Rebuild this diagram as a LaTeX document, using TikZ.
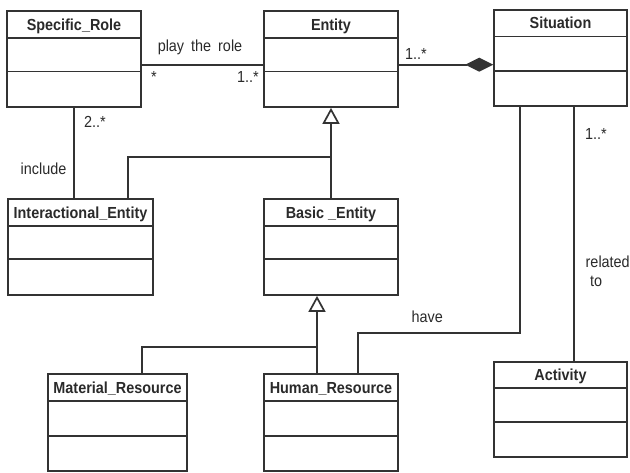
\documentclass[tikz,border=0pt]{standalone}
\usepackage{fontspec}
\setmainfont[FakeStretch=0.9]{Liberation Sans}
\usetikzlibrary{arrows.meta,fit,calc}
\definecolor{ink}{HTML}{333333}
\definecolor{txt}{HTML}{2A2A2A}
\tikzset{
  ln/.style={draw=ink, line width=1.7pt},
  cls/.style={draw=ink, line width=1.7pt, inner sep=0pt, rectangle},
  ttl/.style={font=\fontsize{16}{18}\selectfont\bfseries, text=txt, inner sep=0pt, text height=11.5pt, text depth=0pt},
  lbl/.style={font=\fontsize{16}{18}\selectfont, text=txt, inner sep=0pt, anchor=base},
  gen/.style={ln, -{Triangle[open, length=16pt, width=17pt, fill=white]}},
  comp/.style={ln, -{Diamond[length=28pt, width=14pt, fill=ink]}}
}
\newcommand{\umlclass}[8]{%
  \node[cls, fit={(#2,#3) (#4,#5)}] (#1) {};
  \draw[ln] (#1.west |- 0,#6) -- (#1.east |- 0,#6);
  \draw[ln] (#1.west |- 0,#7) -- (#1.east |- 0,#7);
  \node[ttl] (#1-t) at ({(#2+#4)/2},{(#3+#6)/2}) {#8};
}
\begin{document}
\begin{tikzpicture}[x=1pt,y=-1pt]
\useasboundingbox (0,0) rectangle (630,473);
\fill[white] (0,0) rectangle (630,473);
\umlclass{SR}{7}{11}{141}{107}{38}{71.5}{Specific\_Role}
\umlclass{EN}{264}{11}{398}{107}{38}{71.5}{Entity}
\umlclass{SI}{494}{10}{627}{106}{36.5}{71}{Situation}
\umlclass{IE}{8}{199}{153}{295}{226}{259}{Interactional\_Entity}
\umlclass{BE}{264}{199}{398}{295}{226}{259}{Basic \_Entity}
\umlclass{MR}{48}{374}{187}{471}{401}{436}{Material\_Resource}
\umlclass{HR}{264}{374}{398}{471}{401}{436}{Human\_Resource}
\umlclass{AC}{494}{362}{627}{457}{388}{422}{Activity}
% associations
\coordinate (a1) at (0,64.7);
\draw[ln] (SR.east |- a1) -- (EN.west |- a1);
\draw[comp] (EN.east |- a1) -- (SI.west |- a1);
\draw[ln] (SR.south) -- (SR.south |- IE.north);
% generalization Entity
\coordinate (g1) at (331,157);
\coordinate (ie1) at (128,0);
\draw[gen] (BE.north -| g1) -- (EN.south -| g1);
\draw[ln] (IE.north -| ie1) |- (g1);
% generalization Basic_Entity
\coordinate (g2) at (317,347);
\coordinate (mr1) at (142,0);
\draw[gen] (HR.north -| g2) -- (BE.south -| g2);
\draw[ln] (MR.north -| mr1) |- (g2);
% have
\coordinate (h1) at (520,333);
\coordinate (h2) at (358,333);
\draw[ln] (SI.south -| h1) -- (h1) -- (h2) -- (HR.north -| h2);
% related to
\coordinate (r1) at (574,0);
\draw[ln] (SI.south -| r1) -- (AC.north -| r1);
% labels
\node[lbl] (l1) at (200,52) {play\hspace{7pt}the\hspace{7pt}role};
\node[lbl] (l2) at (154,83) {*};
\node[lbl, anchor=base east] (l3) at (259,83) {1..*};
\node[lbl, anchor=base west] (l4) at (405,60) {1..*};
\node[lbl, anchor=base west] (l5) at (84,128) {2..*};
\node[lbl, anchor=base west] (l6) at (20.5,175) {include};
\node[lbl, anchor=base west] (l7) at (585,140) {1..*};
\node[lbl, anchor=base west] (l8) at (585.5,268) {related};
\node[lbl, anchor=base west] (l9) at (590,287) {to};
\node[lbl, anchor=base west] (l10) at (411.5,323) {have};
\end{tikzpicture}
\end{document}
